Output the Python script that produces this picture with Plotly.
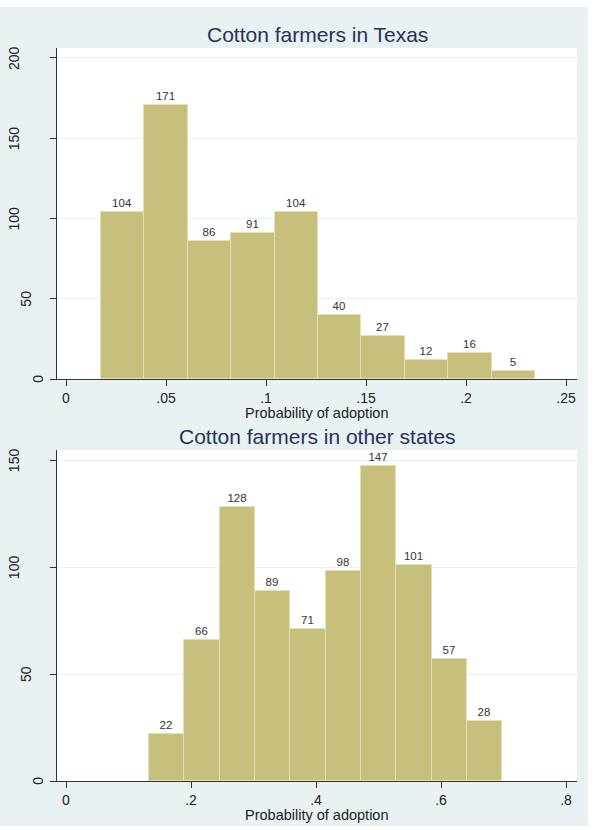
import plotly.graph_objects as go

# ---------------- data ----------------
texas_counts = [104, 171, 86, 91, 104, 40, 27, 12, 16, 5]
texas_start = 0.0175
texas_width = 0.0217

other_counts = [22, 66, 128, 89, 71, 98, 147, 101, 57, 28]
other_start = 0.1328
other_width = 0.0565

texas_xticks = [0, 0.05, 0.1, 0.15, 0.2, 0.25]
texas_xlabels = ["0", ".05", ".1", ".15", ".2", ".25"]
texas_yticks = [0, 50, 100, 150, 200]

other_xticks = [0, 0.2, 0.4, 0.6, 0.8]
other_xlabels = ["0", ".2", ".4", ".6", ".8"]
other_yticks = [0, 50, 100, 150]

title_top = "Cotton farmers in Texas"
title_bottom = "Cotton farmers in other states"
xtitle = "Probability of adoption"

# ---------------- style ----------------
W, H = 595, 830
BG = "#E9F1F3"
BAR = "#C6C07C"
BARLINE = "#E4E0B4"
TITLE_C = "#25335A"
TXT = "#222222"
FONT = "Liberation Sans, Arial, sans-serif"


def px_x(p):
    return p / W


def px_y(p):
    return 1 - p / H


fig = go.Figure()

fig.add_trace(go.Bar(
    x=[texas_start + texas_width * (i + 0.5) for i in range(len(texas_counts))],
    y=texas_counts, width=texas_width,
    marker=dict(color=BAR, line=dict(color=BARLINE, width=1)),
    text=[str(v) for v in texas_counts], textposition="outside",
    textfont=dict(size=11.5, color="#333333", family=FONT),
    cliponaxis=False, xaxis="x", yaxis="y", showlegend=False,
))
fig.add_trace(go.Bar(
    x=[other_start + other_width * (i + 0.5) for i in range(len(other_counts))],
    y=other_counts, width=other_width,
    marker=dict(color=BAR, line=dict(color=BARLINE, width=1)),
    text=[str(v) for v in other_counts], textposition="outside",
    textfont=dict(size=11.5, color="#333333", family=FONT),
    cliponaxis=False, xaxis="x2", yaxis="y2", showlegend=False,
))

axis_common = dict(showline=True, linecolor="#333333", linewidth=1,
                   ticks="outside", ticklen=6, tickcolor="#333333",
                   zeroline=False, tickfont=dict(size=14, color=TXT, family=FONT))

fig.update_layout(
    width=W, height=H,
    margin=dict(l=0, r=0, t=0, b=0),
    paper_bgcolor=BG, plot_bgcolor="white",
    font=dict(family=FONT, color=TXT),
    bargap=0,
    xaxis=dict(domain=[px_x(57), px_x(577)], range=[-0.0045, 0.2555],
               tickvals=texas_xticks, ticktext=texas_xlabels, showgrid=False,
               anchor="y", **axis_common),
    yaxis=dict(domain=[px_y(379), px_y(48)], range=[0, 206.2],
               tickvals=texas_yticks, showticklabels=False, showgrid=True,
               gridcolor=BG, gridwidth=1, anchor="x", **axis_common),
    xaxis2=dict(domain=[px_x(57), px_x(577)], range=[-0.0144, 0.8176],
                tickvals=other_xticks, ticktext=other_xlabels, showgrid=False,
                anchor="y2", **axis_common),
    yaxis2=dict(domain=[px_y(781), px_y(450)], range=[0, 154.7],
                tickvals=other_yticks, showticklabels=False, showgrid=True,
                gridcolor=BG, gridwidth=1, anchor="x2", **axis_common),
    shapes=[
        dict(type="rect", xref="paper", yref="paper", layer="below",
             x0=0, x1=1, y0=px_y(7), y1=1, fillcolor="white", line=dict(width=0)),
        dict(type="rect", xref="paper", yref="paper", layer="below",
             x0=px_x(588), x1=1, y0=0, y1=1, fillcolor="white", line=dict(width=0)),
        dict(type="rect", xref="paper", yref="paper", layer="below",
             x0=0, x1=1, y0=0, y1=px_y(826), fillcolor="white", line=dict(width=0)),
    ],
)

ann = []
# titles
ann.append(dict(text=title_top, x=px_x(317), y=px_y(35), xref="paper", yref="paper",
                showarrow=False, xanchor="center", yanchor="middle",
                font=dict(size=21, color=TITLE_C, family=FONT)))
ann.append(dict(text=title_bottom, x=px_x(317), y=px_y(436), xref="paper", yref="paper",
                showarrow=False, xanchor="center", yanchor="middle",
                font=dict(size=21, color=TITLE_C, family=FONT)))
# x axis titles
ann.append(dict(text=xtitle, x=px_x(317), y=px_y(413), xref="paper", yref="paper",
                showarrow=False, xanchor="center", yanchor="middle",
                font=dict(size=14.5, color=TXT, family=FONT)))
ann.append(dict(text=xtitle, x=px_x(317), y=px_y(815), xref="paper", yref="paper",
                showarrow=False, xanchor="center", yanchor="middle",
                font=dict(size=14.5, color=TXT, family=FONT)))
# rotated y tick labels (Stata-style placement)
for yref, ticks in (("y", texas_yticks), ("y2", other_yticks)):
    for v in ticks:
        s = str(v)
        cx = 49.5 - 11.8 * len(s)
        ann.append(dict(text=s, x=px_x(cx), y=v, xref="paper", yref=yref,
                        showarrow=False, xanchor="center", yanchor="middle",
                        textangle=-90,
                        font=dict(size=14, color=TXT, family=FONT)))
fig.update_layout(annotations=ann)

fig.write_html("out.html")
